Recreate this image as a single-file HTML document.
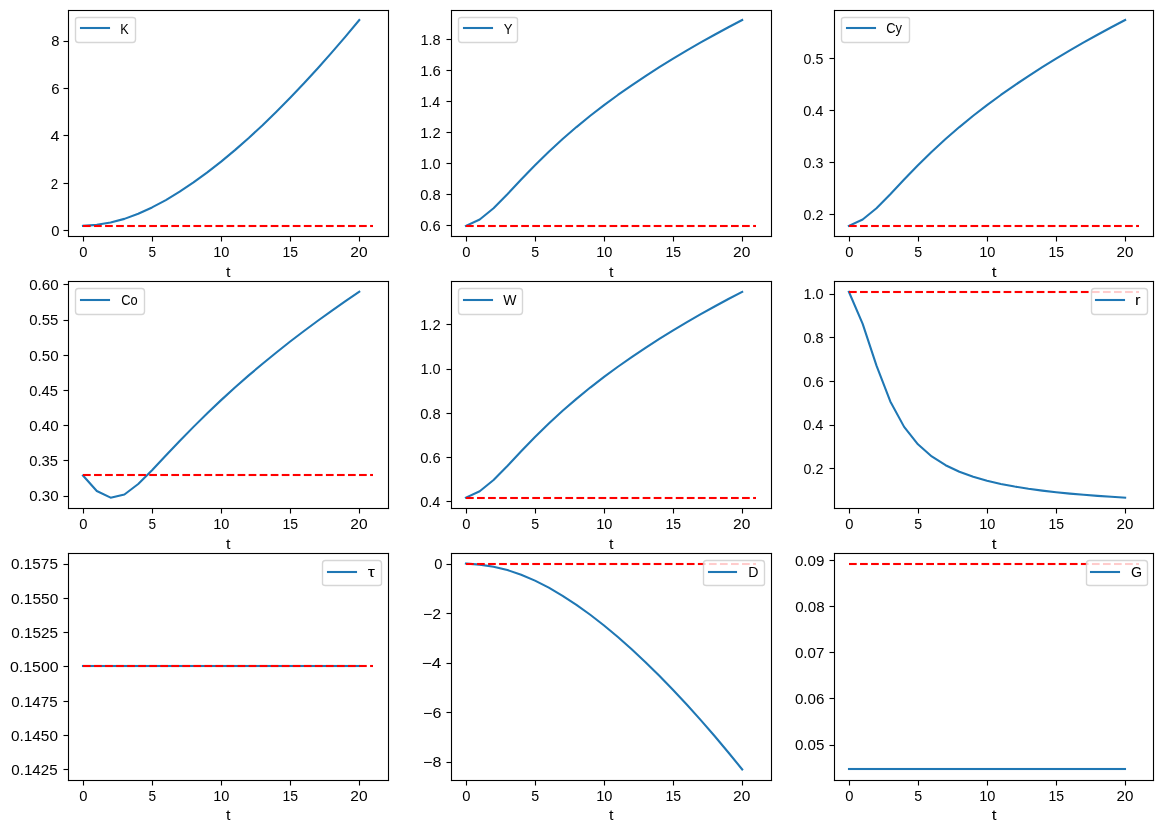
<!DOCTYPE html>
<html><head><meta charset="utf-8"><title>Transition paths</title>
<style>
html,body{margin:0;padding:0;background:#fff;}
svg{display:block;will-change:transform;}
.dl{fill:none;stroke:#1f77b4;stroke-width:2.083;stroke-linecap:square;stroke-linejoin:round;}
.b{fill:#1f77b4;}
.r{fill:#f00;}
.k{fill:#000;}
.lf{fill:#fff;fill-opacity:0.8;stroke:#ccc;stroke-opacity:0.8;stroke-width:1.389;stroke-linejoin:miter;}
.t text{font-family:"Liberation Sans",sans-serif;font-size:14.3px;fill:#000;}
</style></head>
<body>
<svg width="1163" height="833" viewBox="0 0 1163 833">
<rect width="1163" height="833" fill="#fff"/>
<g><path class="dl" d="M82.978 225.899 L96.792 224.842 L110.607 222.573 L124.421 218.874 L138.236 213.777 L152.051 207.452 L165.865 200.053 L179.68 191.696 L193.495 182.462 L207.309 172.421 L221.124 161.627 L234.938 150.125 L248.753 137.957 L262.568 125.157 L276.382 111.754 L290.197 97.776 L304.011 83.247 L317.826 68.188 L331.641 52.618 L345.455 36.556 L359.27 20.016"/><path class="r" d="M83 225H90.708V227H83ZM94.042 225H101.75V227H94.042ZM105.083 225H112.792V227H105.083ZM116.125 225H123.833V227H116.125ZM127.167 225H134.875V227H127.167ZM138.208 225H145.917V227H138.208ZM149.25 225H156.958V227H149.25ZM160.292 225H168V227H160.292ZM171.333 225H179.042V227H171.333ZM182.375 225H190.083V227H182.375ZM193.417 225H201.125V227H193.417ZM204.458 225H212.167V227H204.458ZM215.5 225H223.208V227H215.5ZM226.542 225H234.25V227H226.542ZM237.583 225H245.292V227H237.583ZM248.625 225H256.333V227H248.625ZM259.667 225H267.375V227H259.667ZM270.708 225H278.417V227H270.708ZM281.75 225H289.458V227H281.75ZM292.792 225H300.5V227H292.792ZM303.833 225H311.542V227H303.833ZM314.875 225H322.583V227H314.875ZM325.917 225H333.625V227H325.917ZM336.958 225H344.667V227H336.958ZM348 225H355.708V227H348ZM359.042 225H366.75V227H359.042ZM370.083 225H373V227H370.083Z"/><path class="r" fill-opacity="0.042" d="M83 224H90.708V225H83ZM83 227H90.708V228H83ZM94.042 224H101.75V225H94.042ZM94.042 227H101.75V228H94.042ZM105.083 224H112.792V225H105.083ZM105.083 227H112.792V228H105.083ZM116.125 224H123.833V225H116.125ZM116.125 227H123.833V228H116.125ZM127.167 224H134.875V225H127.167ZM127.167 227H134.875V228H127.167ZM138.208 224H145.917V225H138.208ZM138.208 227H145.917V228H138.208ZM149.25 224H156.958V225H149.25ZM149.25 227H156.958V228H149.25ZM160.292 224H168V225H160.292ZM160.292 227H168V228H160.292ZM171.333 224H179.042V225H171.333ZM171.333 227H179.042V228H171.333ZM182.375 224H190.083V225H182.375ZM182.375 227H190.083V228H182.375ZM193.417 224H201.125V225H193.417ZM193.417 227H201.125V228H193.417ZM204.458 224H212.167V225H204.458ZM204.458 227H212.167V228H204.458ZM215.5 224H223.208V225H215.5ZM215.5 227H223.208V228H215.5ZM226.542 224H234.25V225H226.542ZM226.542 227H234.25V228H226.542ZM237.583 224H245.292V225H237.583ZM237.583 227H245.292V228H237.583ZM248.625 224H256.333V225H248.625ZM248.625 227H256.333V228H248.625ZM259.667 224H267.375V225H259.667ZM259.667 227H267.375V228H259.667ZM270.708 224H278.417V225H270.708ZM270.708 227H278.417V228H270.708ZM281.75 224H289.458V225H281.75ZM281.75 227H289.458V228H281.75ZM292.792 224H300.5V225H292.792ZM292.792 227H300.5V228H292.792ZM303.833 224H311.542V225H303.833ZM303.833 227H311.542V228H303.833ZM314.875 224H322.583V225H314.875ZM314.875 227H322.583V228H314.875ZM325.917 224H333.625V225H325.917ZM325.917 227H333.625V228H325.917ZM336.958 224H344.667V225H336.958ZM336.958 227H344.667V228H336.958ZM348 224H355.708V225H348ZM348 227H355.708V228H348ZM359.042 224H366.75V225H359.042ZM359.042 227H366.75V228H359.042ZM370.083 224H373V225H370.083ZM370.083 227H373V228H370.083Z"/><path class="k" d="M67.944 10H69.056V237H67.944Z"/><path class="k" fill-opacity="0.056" d="M67.944 9H69.056V10H67.944ZM67.944 237H69.056V238H67.944Z"/><path class="k" d="M387.944 10H389.056V237H387.944Z"/><path class="k" fill-opacity="0.056" d="M387.944 9H389.056V10H387.944ZM387.944 237H389.056V238H387.944Z"/><path class="k" d="M67.944 236H389.056V237H67.944Z"/><path class="k" fill-opacity="0.056" d="M67.944 235H389.056V236H67.944ZM67.944 237H389.056V238H67.944Z"/><path class="k" d="M67.944 10H389.056V11H67.944Z"/><path class="k" fill-opacity="0.056" d="M67.944 9H389.056V10H67.944ZM67.944 11H389.056V12H67.944Z"/><path class="k" d="M82.944 237H84.056V241H82.944ZM151.944 237H153.056V241H151.944ZM220.944 237H222.056V241H220.944ZM289.944 237H291.056V241H289.944ZM358.944 237H360.056V241H358.944ZM63.5 230H68.5V231H63.5ZM63.5 183H68.5V184H63.5ZM63.5 135H68.5V136H63.5ZM63.5 88H68.5V89H63.5ZM63.5 41H68.5V42H63.5Z"/><path class="k" fill-opacity="0.5" d="M82.944 236H84.056V237H82.944ZM82.944 241H84.056V242H82.944ZM151.944 236H153.056V237H151.944ZM151.944 241H153.056V242H151.944ZM220.944 236H222.056V237H220.944ZM220.944 241H222.056V242H220.944ZM289.944 236H291.056V237H289.944ZM289.944 241H291.056V242H289.944ZM358.944 236H360.056V237H358.944ZM358.944 241H360.056V242H358.944Z"/><path class="k" fill-opacity="0.056" d="M63.5 229H68.5V230H63.5ZM63.5 231H68.5V232H63.5ZM63.5 182H68.5V183H63.5ZM63.5 184H68.5V185H63.5ZM63.5 134H68.5V135H63.5ZM63.5 136H68.5V137H63.5ZM63.5 87H68.5V88H63.5ZM63.5 89H68.5V90H63.5ZM63.5 40H68.5V41H63.5ZM63.5 42H68.5V43H63.5Z"/><g class="t"><text x="79.312" y="256.765" textLength="8.22" lengthAdjust="spacingAndGlyphs">0</text><text x="148.385" y="256.915" textLength="7.588" lengthAdjust="spacingAndGlyphs">5</text><text x="213.242" y="256.845" textLength="16.222" lengthAdjust="spacingAndGlyphs">10</text><text x="282.566" y="256.765" textLength="15.598" lengthAdjust="spacingAndGlyphs">15</text><text x="350.259" y="256.695" textLength="17.285" lengthAdjust="spacingAndGlyphs">20</text><text x="51.147" y="235.589" textLength="8.22" lengthAdjust="spacingAndGlyphs">0</text><text x="50.647" y="188.528" textLength="7.377" lengthAdjust="spacingAndGlyphs">2</text><text x="50.397" y="140.648" textLength="8.962" lengthAdjust="spacingAndGlyphs">4</text><text x="51.147" y="93.507" textLength="8.321" lengthAdjust="spacingAndGlyphs">6</text><text x="51.147" y="45.996" textLength="8.22" lengthAdjust="spacingAndGlyphs">8</text><text x="225.969" y="276.551" textLength="4.509" lengthAdjust="spacingAndGlyphs">t</text></g><path class="lf" d="M78.5 42.5L132.5 42.5Q135.5 42.5 135.5 39.5L135.5 19.5Q135.5 17.5 132.5 17.5L78.5 17.5Q75.5 17.5 75.5 19.5L75.5 39.5Q75.5 42.5 78.5 42.5Z"/><path class="b" d="M79.958 27H110.042V29H79.958Z"/><path class="b" fill-opacity="0.042" d="M79.958 26H110.042V27H79.958ZM79.958 29H110.042V30H79.958Z"/><g class="t"><text x="120.139" y="33.522" textLength="8.452" lengthAdjust="spacingAndGlyphs">K</text></g></g>
<g><path class="dl" d="M465.919 225.899 L479.733 219.475 L493.548 208.259 L507.363 194.264 L521.177 179.551 L534.992 165.252 L548.806 151.73 L562.621 139.025 L576.436 127.074 L590.25 115.798 L604.065 105.119 L617.88 94.968 L631.694 85.288 L645.509 76.027 L659.323 67.144 L673.138 58.6 L686.953 50.365 L700.767 42.412 L714.582 34.716 L728.396 27.257 L742.211 20.016"/><path class="r" d="M466 225H473.708V227H466ZM477.042 225H484.75V227H477.042ZM488.083 225H495.792V227H488.083ZM499.125 225H506.833V227H499.125ZM510.167 225H517.875V227H510.167ZM521.208 225H528.917V227H521.208ZM532.25 225H539.958V227H532.25ZM543.292 225H551V227H543.292ZM554.333 225H562.042V227H554.333ZM565.375 225H573.083V227H565.375ZM576.417 225H584.125V227H576.417ZM587.458 225H595.167V227H587.458ZM598.5 225H606.208V227H598.5ZM609.542 225H617.25V227H609.542ZM620.583 225H628.292V227H620.583ZM631.625 225H639.333V227H631.625ZM642.667 225H650.375V227H642.667ZM653.708 225H661.417V227H653.708ZM664.75 225H672.458V227H664.75ZM675.792 225H683.5V227H675.792ZM686.833 225H694.542V227H686.833ZM697.875 225H705.583V227H697.875ZM708.917 225H716.625V227H708.917ZM719.958 225H727.667V227H719.958ZM731 225H738.708V227H731ZM742.042 225H749.75V227H742.042ZM753.083 225H756V227H753.083Z"/><path class="r" fill-opacity="0.042" d="M466 224H473.708V225H466ZM466 227H473.708V228H466ZM477.042 224H484.75V225H477.042ZM477.042 227H484.75V228H477.042ZM488.083 224H495.792V225H488.083ZM488.083 227H495.792V228H488.083ZM499.125 224H506.833V225H499.125ZM499.125 227H506.833V228H499.125ZM510.167 224H517.875V225H510.167ZM510.167 227H517.875V228H510.167ZM521.208 224H528.917V225H521.208ZM521.208 227H528.917V228H521.208ZM532.25 224H539.958V225H532.25ZM532.25 227H539.958V228H532.25ZM543.292 224H551V225H543.292ZM543.292 227H551V228H543.292ZM554.333 224H562.042V225H554.333ZM554.333 227H562.042V228H554.333ZM565.375 224H573.083V225H565.375ZM565.375 227H573.083V228H565.375ZM576.417 224H584.125V225H576.417ZM576.417 227H584.125V228H576.417ZM587.458 224H595.167V225H587.458ZM587.458 227H595.167V228H587.458ZM598.5 224H606.208V225H598.5ZM598.5 227H606.208V228H598.5ZM609.542 224H617.25V225H609.542ZM609.542 227H617.25V228H609.542ZM620.583 224H628.292V225H620.583ZM620.583 227H628.292V228H620.583ZM631.625 224H639.333V225H631.625ZM631.625 227H639.333V228H631.625ZM642.667 224H650.375V225H642.667ZM642.667 227H650.375V228H642.667ZM653.708 224H661.417V225H653.708ZM653.708 227H661.417V228H653.708ZM664.75 224H672.458V225H664.75ZM664.75 227H672.458V228H664.75ZM675.792 224H683.5V225H675.792ZM675.792 227H683.5V228H675.792ZM686.833 224H694.542V225H686.833ZM686.833 227H694.542V228H686.833ZM697.875 224H705.583V225H697.875ZM697.875 227H705.583V228H697.875ZM708.917 224H716.625V225H708.917ZM708.917 227H716.625V228H708.917ZM719.958 224H727.667V225H719.958ZM719.958 227H727.667V228H719.958ZM731 224H738.708V225H731ZM731 227H738.708V228H731ZM742.042 224H749.75V225H742.042ZM742.042 227H749.75V228H742.042ZM753.083 224H756V225H753.083ZM753.083 227H756V228H753.083Z"/><path class="k" d="M450.944 10H452.056V237H450.944Z"/><path class="k" fill-opacity="0.056" d="M450.944 9H452.056V10H450.944ZM450.944 237H452.056V238H450.944Z"/><path class="k" d="M770.944 10H772.056V237H770.944Z"/><path class="k" fill-opacity="0.056" d="M770.944 9H772.056V10H770.944ZM770.944 237H772.056V238H770.944Z"/><path class="k" d="M450.944 236H772.056V237H450.944Z"/><path class="k" fill-opacity="0.056" d="M450.944 235H772.056V236H450.944ZM450.944 237H772.056V238H450.944Z"/><path class="k" d="M450.944 10H772.056V11H450.944Z"/><path class="k" fill-opacity="0.056" d="M450.944 9H772.056V10H450.944ZM450.944 11H772.056V12H450.944Z"/><path class="k" d="M465.944 237H467.056V241H465.944ZM534.944 237H536.056V241H534.944ZM603.944 237H605.056V241H603.944ZM672.944 237H674.056V241H672.944ZM741.944 237H743.056V241H741.944ZM446.5 225H451.5V226H446.5ZM446.5 194H451.5V195H446.5ZM446.5 163H451.5V164H446.5ZM446.5 132H451.5V133H446.5ZM446.5 101H451.5V102H446.5ZM446.5 70H451.5V71H446.5ZM446.5 39H451.5V40H446.5Z"/><path class="k" fill-opacity="0.5" d="M465.944 236H467.056V237H465.944ZM465.944 241H467.056V242H465.944ZM534.944 236H536.056V237H534.944ZM534.944 241H536.056V242H534.944ZM603.944 236H605.056V237H603.944ZM603.944 241H605.056V242H603.944ZM672.944 236H674.056V237H672.944ZM672.944 241H674.056V242H672.944ZM741.944 236H743.056V237H741.944ZM741.944 241H743.056V242H741.944Z"/><path class="k" fill-opacity="0.056" d="M446.5 224H451.5V225H446.5ZM446.5 226H451.5V227H446.5ZM446.5 193H451.5V194H446.5ZM446.5 195H451.5V196H446.5ZM446.5 162H451.5V163H446.5ZM446.5 164H451.5V165H446.5ZM446.5 131H451.5V132H446.5ZM446.5 133H451.5V134H446.5ZM446.5 100H451.5V101H446.5ZM446.5 102H451.5V103H446.5ZM446.5 69H451.5V70H446.5ZM446.5 71H451.5V72H446.5ZM446.5 38H451.5V39H446.5ZM446.5 40H451.5V41H446.5Z"/><g class="t"><text x="462.253" y="256.765" textLength="8.22" lengthAdjust="spacingAndGlyphs">0</text><text x="531.206" y="256.845" textLength="7.908" lengthAdjust="spacingAndGlyphs">5</text><text x="596.184" y="256.845" textLength="16.222" lengthAdjust="spacingAndGlyphs">10</text><text x="665.507" y="256.765" textLength="15.598" lengthAdjust="spacingAndGlyphs">15</text><text x="733.08" y="256.765" textLength="17.285" lengthAdjust="spacingAndGlyphs">20</text><text x="420.169" y="230.59" textLength="20.494" lengthAdjust="spacingAndGlyphs">0.6</text><text x="420.169" y="199.631" textLength="20.494" lengthAdjust="spacingAndGlyphs">0.8</text><text x="420.419" y="168.523" textLength="20.22" lengthAdjust="spacingAndGlyphs">1.0</text><text x="420.169" y="137.565" textLength="20.494" lengthAdjust="spacingAndGlyphs">1.2</text><text x="420.419" y="106.537" textLength="19.716" lengthAdjust="spacingAndGlyphs">1.4</text><text x="420.169" y="75.579" textLength="20.746" lengthAdjust="spacingAndGlyphs">1.6</text><text x="420.419" y="44.62" textLength="20.22" lengthAdjust="spacingAndGlyphs">1.8</text><text x="608.91" y="276.551" textLength="4.509" lengthAdjust="spacingAndGlyphs">t</text></g><path class="lf" d="M461.5 42.5L514.5 42.5Q517.5 42.5 517.5 39.5L517.5 19.5Q517.5 17.5 514.5 17.5L461.5 17.5Q458.5 17.5 458.5 19.5L458.5 39.5Q458.5 42.5 461.5 42.5Z"/><path class="b" d="M462.958 27H493.042V29H462.958Z"/><path class="b" fill-opacity="0.042" d="M462.958 26H493.042V27H462.958ZM462.958 29H493.042V30H462.958Z"/><g class="t"><text x="503.695" y="33.522" textLength="8.778" lengthAdjust="spacingAndGlyphs">Y</text></g></g>
<g><path class="dl" d="M848.86 225.899 L862.675 219.475 L876.489 208.259 L890.304 194.264 L904.118 179.551 L917.933 165.252 L931.748 151.73 L945.562 139.025 L959.377 127.074 L973.191 115.798 L987.006 105.119 L1000.821 94.968 L1014.635 85.288 L1028.45 76.027 L1042.265 67.144 L1056.079 58.6 L1069.894 50.365 L1083.708 42.412 L1097.523 34.716 L1111.338 27.257 L1125.152 20.016"/><path class="r" d="M849 225H856.708V227H849ZM860.042 225H867.75V227H860.042ZM871.083 225H878.792V227H871.083ZM882.125 225H889.833V227H882.125ZM893.167 225H900.875V227H893.167ZM904.208 225H911.917V227H904.208ZM915.25 225H922.958V227H915.25ZM926.292 225H934V227H926.292ZM937.333 225H945.042V227H937.333ZM948.375 225H956.083V227H948.375ZM959.417 225H967.125V227H959.417ZM970.458 225H978.167V227H970.458ZM981.5 225H989.208V227H981.5ZM992.542 225H1000.25V227H992.542ZM1003.583 225H1011.292V227H1003.583ZM1014.625 225H1022.333V227H1014.625ZM1025.667 225H1033.375V227H1025.667ZM1036.708 225H1044.417V227H1036.708ZM1047.75 225H1055.458V227H1047.75ZM1058.792 225H1066.5V227H1058.792ZM1069.833 225H1077.542V227H1069.833ZM1080.875 225H1088.583V227H1080.875ZM1091.917 225H1099.625V227H1091.917ZM1102.958 225H1110.667V227H1102.958ZM1114 225H1121.708V227H1114ZM1125.042 225H1132.75V227H1125.042ZM1136.083 225H1139V227H1136.083Z"/><path class="r" fill-opacity="0.042" d="M849 224H856.708V225H849ZM849 227H856.708V228H849ZM860.042 224H867.75V225H860.042ZM860.042 227H867.75V228H860.042ZM871.083 224H878.792V225H871.083ZM871.083 227H878.792V228H871.083ZM882.125 224H889.833V225H882.125ZM882.125 227H889.833V228H882.125ZM893.167 224H900.875V225H893.167ZM893.167 227H900.875V228H893.167ZM904.208 224H911.917V225H904.208ZM904.208 227H911.917V228H904.208ZM915.25 224H922.958V225H915.25ZM915.25 227H922.958V228H915.25ZM926.292 224H934V225H926.292ZM926.292 227H934V228H926.292ZM937.333 224H945.042V225H937.333ZM937.333 227H945.042V228H937.333ZM948.375 224H956.083V225H948.375ZM948.375 227H956.083V228H948.375ZM959.417 224H967.125V225H959.417ZM959.417 227H967.125V228H959.417ZM970.458 224H978.167V225H970.458ZM970.458 227H978.167V228H970.458ZM981.5 224H989.208V225H981.5ZM981.5 227H989.208V228H981.5ZM992.542 224H1000.25V225H992.542ZM992.542 227H1000.25V228H992.542ZM1003.583 224H1011.292V225H1003.583ZM1003.583 227H1011.292V228H1003.583ZM1014.625 224H1022.333V225H1014.625ZM1014.625 227H1022.333V228H1014.625ZM1025.667 224H1033.375V225H1025.667ZM1025.667 227H1033.375V228H1025.667ZM1036.708 224H1044.417V225H1036.708ZM1036.708 227H1044.417V228H1036.708ZM1047.75 224H1055.458V225H1047.75ZM1047.75 227H1055.458V228H1047.75ZM1058.792 224H1066.5V225H1058.792ZM1058.792 227H1066.5V228H1058.792ZM1069.833 224H1077.542V225H1069.833ZM1069.833 227H1077.542V228H1069.833ZM1080.875 224H1088.583V225H1080.875ZM1080.875 227H1088.583V228H1080.875ZM1091.917 224H1099.625V225H1091.917ZM1091.917 227H1099.625V228H1091.917ZM1102.958 224H1110.667V225H1102.958ZM1102.958 227H1110.667V228H1102.958ZM1114 224H1121.708V225H1114ZM1114 227H1121.708V228H1114ZM1125.042 224H1132.75V225H1125.042ZM1125.042 227H1132.75V228H1125.042ZM1136.083 224H1139V225H1136.083ZM1136.083 227H1139V228H1136.083Z"/><path class="k" d="M833.944 10H835.056V237H833.944Z"/><path class="k" fill-opacity="0.056" d="M833.944 9H835.056V10H833.944ZM833.944 237H835.056V238H833.944Z"/><path class="k" d="M1152.944 10H1154.056V237H1152.944Z"/><path class="k" fill-opacity="0.056" d="M1152.944 9H1154.056V10H1152.944ZM1152.944 237H1154.056V238H1152.944Z"/><path class="k" d="M833.944 236H1154.056V237H833.944Z"/><path class="k" fill-opacity="0.056" d="M833.944 235H1154.056V236H833.944ZM833.944 237H1154.056V238H833.944Z"/><path class="k" d="M833.944 10H1154.056V11H833.944Z"/><path class="k" fill-opacity="0.056" d="M833.944 9H1154.056V10H833.944ZM833.944 11H1154.056V12H833.944Z"/><path class="k" d="M848.944 237H850.056V241H848.944ZM917.944 237H919.056V241H917.944ZM986.944 237H988.056V241H986.944ZM1055.944 237H1057.056V241H1055.944ZM1124.944 237H1126.056V241H1124.944ZM829.5 214H834.5V215H829.5ZM829.5 162H834.5V163H829.5ZM829.5 110H834.5V111H829.5ZM829.5 58H834.5V59H829.5Z"/><path class="k" fill-opacity="0.5" d="M848.944 236H850.056V237H848.944ZM848.944 241H850.056V242H848.944ZM917.944 236H919.056V237H917.944ZM917.944 241H919.056V242H917.944ZM986.944 236H988.056V237H986.944ZM986.944 241H988.056V242H986.944ZM1055.944 236H1057.056V237H1055.944ZM1055.944 241H1057.056V242H1055.944ZM1124.944 236H1126.056V237H1124.944ZM1124.944 241H1126.056V242H1124.944Z"/><path class="k" fill-opacity="0.056" d="M829.5 213H834.5V214H829.5ZM829.5 215H834.5V216H829.5ZM829.5 161H834.5V162H829.5ZM829.5 163H834.5V164H829.5ZM829.5 109H834.5V110H829.5ZM829.5 111H834.5V112H829.5ZM829.5 57H834.5V58H829.5ZM829.5 59H834.5V60H829.5Z"/><g class="t"><text x="845.194" y="256.765" textLength="8.22" lengthAdjust="spacingAndGlyphs">0</text><text x="914.147" y="256.845" textLength="7.908" lengthAdjust="spacingAndGlyphs">5</text><text x="979.125" y="256.695" textLength="16.239" lengthAdjust="spacingAndGlyphs">10</text><text x="1048.448" y="256.765" textLength="15.598" lengthAdjust="spacingAndGlyphs">15</text><text x="1116.521" y="256.765" textLength="16.863" lengthAdjust="spacingAndGlyphs">20</text><text x="803.61" y="219.633" textLength="19.716" lengthAdjust="spacingAndGlyphs">0.2</text><text x="803.61" y="167.602" textLength="19.716" lengthAdjust="spacingAndGlyphs">0.3</text><text x="803.24" y="115.572" textLength="20.22" lengthAdjust="spacingAndGlyphs">0.4</text><text x="803.61" y="63.541" textLength="19.716" lengthAdjust="spacingAndGlyphs">0.5</text><text x="991.851" y="276.621" textLength="4.833" lengthAdjust="spacingAndGlyphs">t</text></g><path class="lf" d="M844.5 42.5L907.5 42.5Q909.5 42.5 909.5 39.5L909.5 19.5Q909.5 17.5 907.5 17.5L844.5 17.5Q841.5 17.5 841.5 19.5L841.5 39.5Q841.5 42.5 844.5 42.5Z"/><path class="b" d="M845.958 27H876.042V29H845.958Z"/><path class="b" fill-opacity="0.042" d="M845.958 26H876.042V27H845.958ZM845.958 29H876.042V30H845.958Z"/><g class="t"><text x="886.243" y="33.072" textLength="15.818" lengthAdjust="spacingAndGlyphs">Cy</text></g></g>
<g><path class="dl" d="M82.978 475.469 L96.792 491.011 L110.607 497.663 L124.421 494.498 L138.236 484.031 L152.051 470.247 L165.865 455.579 L179.68 441.008 L193.495 426.861 L207.309 413.23 L221.124 400.125 L234.938 387.526 L248.753 375.401 L262.568 363.718 L276.382 352.441 L290.197 341.541 L304.011 330.989 L317.826 320.759 L331.641 310.828 L345.455 301.175 L359.27 291.781"/><path class="r" d="M83 474H90.708V476H83ZM94.042 474H101.75V476H94.042ZM105.083 474H112.792V476H105.083ZM116.125 474H123.833V476H116.125ZM127.167 474H134.875V476H127.167ZM138.208 474H145.917V476H138.208ZM149.25 474H156.958V476H149.25ZM160.292 474H168V476H160.292ZM171.333 474H179.042V476H171.333ZM182.375 474H190.083V476H182.375ZM193.417 474H201.125V476H193.417ZM204.458 474H212.167V476H204.458ZM215.5 474H223.208V476H215.5ZM226.542 474H234.25V476H226.542ZM237.583 474H245.292V476H237.583ZM248.625 474H256.333V476H248.625ZM259.667 474H267.375V476H259.667ZM270.708 474H278.417V476H270.708ZM281.75 474H289.458V476H281.75ZM292.792 474H300.5V476H292.792ZM303.833 474H311.542V476H303.833ZM314.875 474H322.583V476H314.875ZM325.917 474H333.625V476H325.917ZM336.958 474H344.667V476H336.958ZM348 474H355.708V476H348ZM359.042 474H366.75V476H359.042ZM370.083 474H373V476H370.083Z"/><path class="r" fill-opacity="0.042" d="M83 473H90.708V474H83ZM83 476H90.708V477H83ZM94.042 473H101.75V474H94.042ZM94.042 476H101.75V477H94.042ZM105.083 473H112.792V474H105.083ZM105.083 476H112.792V477H105.083ZM116.125 473H123.833V474H116.125ZM116.125 476H123.833V477H116.125ZM127.167 473H134.875V474H127.167ZM127.167 476H134.875V477H127.167ZM138.208 473H145.917V474H138.208ZM138.208 476H145.917V477H138.208ZM149.25 473H156.958V474H149.25ZM149.25 476H156.958V477H149.25ZM160.292 473H168V474H160.292ZM160.292 476H168V477H160.292ZM171.333 473H179.042V474H171.333ZM171.333 476H179.042V477H171.333ZM182.375 473H190.083V474H182.375ZM182.375 476H190.083V477H182.375ZM193.417 473H201.125V474H193.417ZM193.417 476H201.125V477H193.417ZM204.458 473H212.167V474H204.458ZM204.458 476H212.167V477H204.458ZM215.5 473H223.208V474H215.5ZM215.5 476H223.208V477H215.5ZM226.542 473H234.25V474H226.542ZM226.542 476H234.25V477H226.542ZM237.583 473H245.292V474H237.583ZM237.583 476H245.292V477H237.583ZM248.625 473H256.333V474H248.625ZM248.625 476H256.333V477H248.625ZM259.667 473H267.375V474H259.667ZM259.667 476H267.375V477H259.667ZM270.708 473H278.417V474H270.708ZM270.708 476H278.417V477H270.708ZM281.75 473H289.458V474H281.75ZM281.75 476H289.458V477H281.75ZM292.792 473H300.5V474H292.792ZM292.792 476H300.5V477H292.792ZM303.833 473H311.542V474H303.833ZM303.833 476H311.542V477H303.833ZM314.875 473H322.583V474H314.875ZM314.875 476H322.583V477H314.875ZM325.917 473H333.625V474H325.917ZM325.917 476H333.625V477H325.917ZM336.958 473H344.667V474H336.958ZM336.958 476H344.667V477H336.958ZM348 473H355.708V474H348ZM348 476H355.708V477H348ZM359.042 473H366.75V474H359.042ZM359.042 476H366.75V477H359.042ZM370.083 473H373V474H370.083ZM370.083 476H373V477H370.083Z"/><path class="k" d="M67.944 281H69.056V509H67.944Z"/><path class="k" fill-opacity="0.056" d="M67.944 280H69.056V281H67.944ZM67.944 509H69.056V510H67.944Z"/><path class="k" d="M387.944 281H389.056V509H387.944Z"/><path class="k" fill-opacity="0.056" d="M387.944 280H389.056V281H387.944ZM387.944 509H389.056V510H387.944Z"/><path class="k" d="M67.944 508H389.056V509H67.944Z"/><path class="k" fill-opacity="0.056" d="M67.944 507H389.056V508H67.944ZM67.944 509H389.056V510H67.944Z"/><path class="k" d="M67.944 281H389.056V282H67.944Z"/><path class="k" fill-opacity="0.056" d="M67.944 280H389.056V281H67.944ZM67.944 282H389.056V283H67.944Z"/><path class="k" d="M82.944 509H84.056V513H82.944ZM151.944 509H153.056V513H151.944ZM220.944 509H222.056V513H220.944ZM289.944 509H291.056V513H289.944ZM358.944 509H360.056V513H358.944ZM63.5 496H68.5V497H63.5ZM63.5 460H68.5V461H63.5ZM63.5 425H68.5V426H63.5ZM63.5 390H68.5V391H63.5ZM63.5 355H68.5V356H63.5ZM63.5 320H68.5V321H63.5ZM63.5 284H68.5V285H63.5Z"/><path class="k" fill-opacity="0.5" d="M82.944 508H84.056V509H82.944ZM82.944 513H84.056V514H82.944ZM151.944 508H153.056V509H151.944ZM151.944 513H153.056V514H151.944ZM220.944 508H222.056V509H220.944ZM220.944 513H222.056V514H220.944ZM289.944 508H291.056V509H289.944ZM289.944 513H291.056V514H289.944ZM358.944 508H360.056V509H358.944ZM358.944 513H360.056V514H358.944Z"/><path class="k" fill-opacity="0.056" d="M63.5 495H68.5V496H63.5ZM63.5 497H68.5V498H63.5ZM63.5 459H68.5V460H63.5ZM63.5 461H68.5V462H63.5ZM63.5 424H68.5V425H63.5ZM63.5 426H68.5V427H63.5ZM63.5 389H68.5V390H63.5ZM63.5 391H68.5V392H63.5ZM63.5 354H68.5V355H63.5ZM63.5 356H68.5V357H63.5ZM63.5 319H68.5V320H63.5ZM63.5 321H68.5V322H63.5ZM63.5 283H68.5V284H63.5ZM63.5 285H68.5V286H63.5Z"/><g class="t"><text x="79.312" y="528.53" textLength="8.22" lengthAdjust="spacingAndGlyphs">0</text><text x="148.385" y="528.68" textLength="7.588" lengthAdjust="spacingAndGlyphs">5</text><text x="213.242" y="528.61" textLength="16.222" lengthAdjust="spacingAndGlyphs">10</text><text x="282.566" y="528.53" textLength="15.598" lengthAdjust="spacingAndGlyphs">15</text><text x="350.259" y="528.53" textLength="17.285" lengthAdjust="spacingAndGlyphs">20</text><text x="29.205" y="500.884" textLength="29.45" lengthAdjust="spacingAndGlyphs">0.30</text><text x="29.325" y="465.768" textLength="28.714" lengthAdjust="spacingAndGlyphs">0.35</text><text x="29.205" y="430.512" textLength="29.45" lengthAdjust="spacingAndGlyphs">0.40</text><text x="29.325" y="395.546" textLength="28.714" lengthAdjust="spacingAndGlyphs">0.45</text><text x="29.205" y="360.51" textLength="29.45" lengthAdjust="spacingAndGlyphs">0.50</text><text x="29.205" y="324.955" textLength="29.067" lengthAdjust="spacingAndGlyphs">0.55</text><text x="29.205" y="289.769" textLength="29.45" lengthAdjust="spacingAndGlyphs">0.60</text><text x="225.969" y="548.535" textLength="4.509" lengthAdjust="spacingAndGlyphs">t</text></g><path class="lf" d="M78.5 314.5L141.5 314.5Q144.5 314.5 144.5 311.5L144.5 291.5Q144.5 288.5 141.5 288.5L78.5 288.5Q75.5 288.5 75.5 291.5L75.5 311.5Q75.5 314.5 78.5 314.5Z"/><path class="b" d="M79.958 299H110.042V301H79.958Z"/><path class="b" fill-opacity="0.042" d="M79.958 298H110.042V299H79.958ZM79.958 301H110.042V302H79.958Z"/><g class="t"><text x="121.247" y="304.917" textLength="16.47" lengthAdjust="spacingAndGlyphs">Co</text></g></g>
<g><path class="dl" d="M465.919 497.663 L479.733 491.24 L493.548 480.024 L507.363 466.029 L521.177 451.316 L534.992 437.016 L548.806 423.495 L562.621 410.79 L576.436 398.839 L590.25 387.562 L604.065 376.883 L617.88 366.733 L631.694 357.053 L645.509 347.792 L659.323 338.908 L673.138 330.365 L686.953 322.13 L700.767 314.176 L714.582 306.481 L728.396 299.021 L742.211 291.781"/><path class="r" d="M466 497H473.708V499H466ZM477.042 497H484.75V499H477.042ZM488.083 497H495.792V499H488.083ZM499.125 497H506.833V499H499.125ZM510.167 497H517.875V499H510.167ZM521.208 497H528.917V499H521.208ZM532.25 497H539.958V499H532.25ZM543.292 497H551V499H543.292ZM554.333 497H562.042V499H554.333ZM565.375 497H573.083V499H565.375ZM576.417 497H584.125V499H576.417ZM587.458 497H595.167V499H587.458ZM598.5 497H606.208V499H598.5ZM609.542 497H617.25V499H609.542ZM620.583 497H628.292V499H620.583ZM631.625 497H639.333V499H631.625ZM642.667 497H650.375V499H642.667ZM653.708 497H661.417V499H653.708ZM664.75 497H672.458V499H664.75ZM675.792 497H683.5V499H675.792ZM686.833 497H694.542V499H686.833ZM697.875 497H705.583V499H697.875ZM708.917 497H716.625V499H708.917ZM719.958 497H727.667V499H719.958ZM731 497H738.708V499H731ZM742.042 497H749.75V499H742.042ZM753.083 497H756V499H753.083Z"/><path class="r" fill-opacity="0.042" d="M466 496H473.708V497H466ZM466 499H473.708V500H466ZM477.042 496H484.75V497H477.042ZM477.042 499H484.75V500H477.042ZM488.083 496H495.792V497H488.083ZM488.083 499H495.792V500H488.083ZM499.125 496H506.833V497H499.125ZM499.125 499H506.833V500H499.125ZM510.167 496H517.875V497H510.167ZM510.167 499H517.875V500H510.167ZM521.208 496H528.917V497H521.208ZM521.208 499H528.917V500H521.208ZM532.25 496H539.958V497H532.25ZM532.25 499H539.958V500H532.25ZM543.292 496H551V497H543.292ZM543.292 499H551V500H543.292ZM554.333 496H562.042V497H554.333ZM554.333 499H562.042V500H554.333ZM565.375 496H573.083V497H565.375ZM565.375 499H573.083V500H565.375ZM576.417 496H584.125V497H576.417ZM576.417 499H584.125V500H576.417ZM587.458 496H595.167V497H587.458ZM587.458 499H595.167V500H587.458ZM598.5 496H606.208V497H598.5ZM598.5 499H606.208V500H598.5ZM609.542 496H617.25V497H609.542ZM609.542 499H617.25V500H609.542ZM620.583 496H628.292V497H620.583ZM620.583 499H628.292V500H620.583ZM631.625 496H639.333V497H631.625ZM631.625 499H639.333V500H631.625ZM642.667 496H650.375V497H642.667ZM642.667 499H650.375V500H642.667ZM653.708 496H661.417V497H653.708ZM653.708 499H661.417V500H653.708ZM664.75 496H672.458V497H664.75ZM664.75 499H672.458V500H664.75ZM675.792 496H683.5V497H675.792ZM675.792 499H683.5V500H675.792ZM686.833 496H694.542V497H686.833ZM686.833 499H694.542V500H686.833ZM697.875 496H705.583V497H697.875ZM697.875 499H705.583V500H697.875ZM708.917 496H716.625V497H708.917ZM708.917 499H716.625V500H708.917ZM719.958 496H727.667V497H719.958ZM719.958 499H727.667V500H719.958ZM731 496H738.708V497H731ZM731 499H738.708V500H731ZM742.042 496H749.75V497H742.042ZM742.042 499H749.75V500H742.042ZM753.083 496H756V497H753.083ZM753.083 499H756V500H753.083Z"/><path class="k" d="M450.944 281H452.056V509H450.944Z"/><path class="k" fill-opacity="0.056" d="M450.944 280H452.056V281H450.944ZM450.944 509H452.056V510H450.944Z"/><path class="k" d="M770.944 281H772.056V509H770.944Z"/><path class="k" fill-opacity="0.056" d="M770.944 280H772.056V281H770.944ZM770.944 509H772.056V510H770.944Z"/><path class="k" d="M450.944 508H772.056V509H450.944Z"/><path class="k" fill-opacity="0.056" d="M450.944 507H772.056V508H450.944ZM450.944 509H772.056V510H450.944Z"/><path class="k" d="M450.944 281H772.056V282H450.944Z"/><path class="k" fill-opacity="0.056" d="M450.944 280H772.056V281H450.944ZM450.944 282H772.056V283H450.944Z"/><path class="k" d="M465.944 509H467.056V513H465.944ZM534.944 509H536.056V513H534.944ZM603.944 509H605.056V513H603.944ZM672.944 509H674.056V513H672.944ZM741.944 509H743.056V513H741.944ZM446.5 501H451.5V502H446.5ZM446.5 457H451.5V458H446.5ZM446.5 413H451.5V414H446.5ZM446.5 369H451.5V370H446.5ZM446.5 324H451.5V325H446.5Z"/><path class="k" fill-opacity="0.5" d="M465.944 508H467.056V509H465.944ZM465.944 513H467.056V514H465.944ZM534.944 508H536.056V509H534.944ZM534.944 513H536.056V514H534.944ZM603.944 508H605.056V509H603.944ZM603.944 513H605.056V514H603.944ZM672.944 508H674.056V509H672.944ZM672.944 513H674.056V514H672.944ZM741.944 508H743.056V509H741.944ZM741.944 513H743.056V514H741.944Z"/><path class="k" fill-opacity="0.056" d="M446.5 500H451.5V501H446.5ZM446.5 502H451.5V503H446.5ZM446.5 456H451.5V457H446.5ZM446.5 458H451.5V459H446.5ZM446.5 412H451.5V413H446.5ZM446.5 414H451.5V415H446.5ZM446.5 368H451.5V369H446.5ZM446.5 370H451.5V371H446.5ZM446.5 323H451.5V324H446.5ZM446.5 325H451.5V326H446.5Z"/><g class="t"><text x="462.253" y="528.53" textLength="8.22" lengthAdjust="spacingAndGlyphs">0</text><text x="531.206" y="528.61" textLength="7.908" lengthAdjust="spacingAndGlyphs">5</text><text x="596.184" y="528.61" textLength="16.222" lengthAdjust="spacingAndGlyphs">10</text><text x="665.507" y="528.53" textLength="15.598" lengthAdjust="spacingAndGlyphs">15</text><text x="733.08" y="528.53" textLength="17.285" lengthAdjust="spacingAndGlyphs">20</text><text x="420.169" y="506.557" textLength="20.241" lengthAdjust="spacingAndGlyphs">0.4</text><text x="420.169" y="462.551" textLength="20.494" lengthAdjust="spacingAndGlyphs">0.6</text><text x="420.169" y="418.625" textLength="20.494" lengthAdjust="spacingAndGlyphs">0.8</text><text x="420.419" y="373.879" textLength="20.22" lengthAdjust="spacingAndGlyphs">1.0</text><text x="420.169" y="329.723" textLength="20.494" lengthAdjust="spacingAndGlyphs">1.2</text><text x="608.91" y="548.535" textLength="4.509" lengthAdjust="spacingAndGlyphs">t</text></g><path class="lf" d="M461.5 314.5L519.5 314.5Q522.5 314.5 522.5 311.5L522.5 291.5Q522.5 288.5 519.5 288.5L461.5 288.5Q458.5 288.5 458.5 291.5L458.5 311.5Q458.5 314.5 461.5 314.5Z"/><path class="b" d="M462.958 299H493.042V301H462.958Z"/><path class="b" fill-opacity="0.042" d="M462.958 298H493.042V299H462.958ZM462.958 301H493.042V302H462.958Z"/><g class="t"><text x="503.196" y="304.917" textLength="13.219" lengthAdjust="spacingAndGlyphs">W</text></g></g>
<g><path class="dl" d="M848.86 291.781 L862.675 323.83 L876.489 365.666 L890.304 401.387 L904.118 426.872 L917.933 444.296 L931.748 456.431 L945.562 465.185 L959.377 471.722 L973.191 476.754 L987.006 480.729 L1000.821 483.936 L1014.635 486.573 L1028.45 488.775 L1042.265 490.639 L1056.079 492.235 L1069.894 493.616 L1083.708 494.822 L1097.523 495.883 L1111.338 496.824 L1125.152 497.663"/><path class="r" d="M849 291H856.708V293H849ZM860.042 291H867.75V293H860.042ZM871.083 291H878.792V293H871.083ZM882.125 291H889.833V293H882.125ZM893.167 291H900.875V293H893.167ZM904.208 291H911.917V293H904.208ZM915.25 291H922.958V293H915.25ZM926.292 291H934V293H926.292ZM937.333 291H945.042V293H937.333ZM948.375 291H956.083V293H948.375ZM959.417 291H967.125V293H959.417ZM970.458 291H978.167V293H970.458ZM981.5 291H989.208V293H981.5ZM992.542 291H1000.25V293H992.542ZM1003.583 291H1011.292V293H1003.583ZM1014.625 291H1022.333V293H1014.625ZM1025.667 291H1033.375V293H1025.667ZM1036.708 291H1044.417V293H1036.708ZM1047.75 291H1055.458V293H1047.75ZM1058.792 291H1066.5V293H1058.792ZM1069.833 291H1077.542V293H1069.833ZM1080.875 291H1088.583V293H1080.875ZM1091.917 291H1099.625V293H1091.917ZM1102.958 291H1110.667V293H1102.958ZM1114 291H1121.708V293H1114ZM1125.042 291H1132.75V293H1125.042ZM1136.083 291H1139V293H1136.083Z"/><path class="r" fill-opacity="0.042" d="M849 290H856.708V291H849ZM849 293H856.708V294H849ZM860.042 290H867.75V291H860.042ZM860.042 293H867.75V294H860.042ZM871.083 290H878.792V291H871.083ZM871.083 293H878.792V294H871.083ZM882.125 290H889.833V291H882.125ZM882.125 293H889.833V294H882.125ZM893.167 290H900.875V291H893.167ZM893.167 293H900.875V294H893.167ZM904.208 290H911.917V291H904.208ZM904.208 293H911.917V294H904.208ZM915.25 290H922.958V291H915.25ZM915.25 293H922.958V294H915.25ZM926.292 290H934V291H926.292ZM926.292 293H934V294H926.292ZM937.333 290H945.042V291H937.333ZM937.333 293H945.042V294H937.333ZM948.375 290H956.083V291H948.375ZM948.375 293H956.083V294H948.375ZM959.417 290H967.125V291H959.417ZM959.417 293H967.125V294H959.417ZM970.458 290H978.167V291H970.458ZM970.458 293H978.167V294H970.458ZM981.5 290H989.208V291H981.5ZM981.5 293H989.208V294H981.5ZM992.542 290H1000.25V291H992.542ZM992.542 293H1000.25V294H992.542ZM1003.583 290H1011.292V291H1003.583ZM1003.583 293H1011.292V294H1003.583ZM1014.625 290H1022.333V291H1014.625ZM1014.625 293H1022.333V294H1014.625ZM1025.667 290H1033.375V291H1025.667ZM1025.667 293H1033.375V294H1025.667ZM1036.708 290H1044.417V291H1036.708ZM1036.708 293H1044.417V294H1036.708ZM1047.75 290H1055.458V291H1047.75ZM1047.75 293H1055.458V294H1047.75ZM1058.792 290H1066.5V291H1058.792ZM1058.792 293H1066.5V294H1058.792ZM1069.833 290H1077.542V291H1069.833ZM1069.833 293H1077.542V294H1069.833ZM1080.875 290H1088.583V291H1080.875ZM1080.875 293H1088.583V294H1080.875ZM1091.917 290H1099.625V291H1091.917ZM1091.917 293H1099.625V294H1091.917ZM1102.958 290H1110.667V291H1102.958ZM1102.958 293H1110.667V294H1102.958ZM1114 290H1121.708V291H1114ZM1114 293H1121.708V294H1114ZM1125.042 290H1132.75V291H1125.042ZM1125.042 293H1132.75V294H1125.042ZM1136.083 290H1139V291H1136.083ZM1136.083 293H1139V294H1136.083Z"/><path class="k" d="M833.944 281H835.056V509H833.944Z"/><path class="k" fill-opacity="0.056" d="M833.944 280H835.056V281H833.944ZM833.944 509H835.056V510H833.944Z"/><path class="k" d="M1152.944 281H1154.056V509H1152.944Z"/><path class="k" fill-opacity="0.056" d="M1152.944 280H1154.056V281H1152.944ZM1152.944 509H1154.056V510H1152.944Z"/><path class="k" d="M833.944 508H1154.056V509H833.944Z"/><path class="k" fill-opacity="0.056" d="M833.944 507H1154.056V508H833.944ZM833.944 509H1154.056V510H833.944Z"/><path class="k" d="M833.944 281H1154.056V282H833.944Z"/><path class="k" fill-opacity="0.056" d="M833.944 280H1154.056V281H833.944ZM833.944 282H1154.056V283H833.944Z"/><path class="k" d="M848.944 509H850.056V513H848.944ZM917.944 509H919.056V513H917.944ZM986.944 509H988.056V513H986.944ZM1055.944 509H1057.056V513H1055.944ZM1124.944 509H1126.056V513H1124.944ZM829.5 468H834.5V469H829.5ZM829.5 425H834.5V426H829.5ZM829.5 381H834.5V382H829.5ZM829.5 337H834.5V338H829.5ZM829.5 294H834.5V295H829.5Z"/><path class="k" fill-opacity="0.5" d="M848.944 508H850.056V509H848.944ZM848.944 513H850.056V514H848.944ZM917.944 508H919.056V509H917.944ZM917.944 513H919.056V514H917.944ZM986.944 508H988.056V509H986.944ZM986.944 513H988.056V514H986.944ZM1055.944 508H1057.056V509H1055.944ZM1055.944 513H1057.056V514H1055.944ZM1124.944 508H1126.056V509H1124.944ZM1124.944 513H1126.056V514H1124.944Z"/><path class="k" fill-opacity="0.056" d="M829.5 467H834.5V468H829.5ZM829.5 469H834.5V470H829.5ZM829.5 424H834.5V425H829.5ZM829.5 426H834.5V427H829.5ZM829.5 380H834.5V381H829.5ZM829.5 382H834.5V383H829.5ZM829.5 336H834.5V337H829.5ZM829.5 338H834.5V339H829.5ZM829.5 293H834.5V294H829.5ZM829.5 295H834.5V296H829.5Z"/><g class="t"><text x="845.194" y="528.53" textLength="8.22" lengthAdjust="spacingAndGlyphs">0</text><text x="914.147" y="528.61" textLength="7.908" lengthAdjust="spacingAndGlyphs">5</text><text x="979.125" y="528.53" textLength="16.239" lengthAdjust="spacingAndGlyphs">10</text><text x="1048.448" y="528.53" textLength="15.598" lengthAdjust="spacingAndGlyphs">15</text><text x="1116.521" y="528.53" textLength="16.863" lengthAdjust="spacingAndGlyphs">20</text><text x="803.61" y="473.649" textLength="19.716" lengthAdjust="spacingAndGlyphs">0.2</text><text x="803.24" y="429.848" textLength="20.22" lengthAdjust="spacingAndGlyphs">0.4</text><text x="803.24" y="386.567" textLength="20.494" lengthAdjust="spacingAndGlyphs">0.6</text><text x="803.61" y="342.766" textLength="19.968" lengthAdjust="spacingAndGlyphs">0.8</text><text x="803.49" y="299.045" textLength="20.22" lengthAdjust="spacingAndGlyphs">1.0</text><text x="991.851" y="548.535" textLength="4.833" lengthAdjust="spacingAndGlyphs">t</text></g><path class="lf" d="M1094.5 314.5L1144.5 314.5Q1147.5 314.5 1147.5 311.5L1147.5 291.5Q1147.5 288.5 1144.5 288.5L1094.5 288.5Q1091.5 288.5 1091.5 291.5L1091.5 311.5Q1091.5 314.5 1094.5 314.5Z"/><path class="b" d="M1094.958 299H1125.042V301H1094.958Z"/><path class="b" fill-opacity="0.042" d="M1094.958 298H1125.042V299H1094.958ZM1094.958 301H1125.042V302H1094.958Z"/><g class="t"><text x="1134.916" y="304.917" textLength="5.528" lengthAdjust="spacingAndGlyphs">r</text></g></g>
<g><path class="b" d="M81.958 665H360.042V667H81.958Z"/><path class="b" fill-opacity="0.042" d="M81.958 664H360.042V665H81.958ZM81.958 667H360.042V668H81.958Z"/><path class="r" d="M83 665H90.708V667H83ZM94.042 665H101.75V667H94.042ZM105.083 665H112.792V667H105.083ZM116.125 665H123.833V667H116.125ZM127.167 665H134.875V667H127.167ZM138.208 665H145.917V667H138.208ZM149.25 665H156.958V667H149.25ZM160.292 665H168V667H160.292ZM171.333 665H179.042V667H171.333ZM182.375 665H190.083V667H182.375ZM193.417 665H201.125V667H193.417ZM204.458 665H212.167V667H204.458ZM215.5 665H223.208V667H215.5ZM226.542 665H234.25V667H226.542ZM237.583 665H245.292V667H237.583ZM248.625 665H256.333V667H248.625ZM259.667 665H267.375V667H259.667ZM270.708 665H278.417V667H270.708ZM281.75 665H289.458V667H281.75ZM292.792 665H300.5V667H292.792ZM303.833 665H311.542V667H303.833ZM314.875 665H322.583V667H314.875ZM325.917 665H333.625V667H325.917ZM336.958 665H344.667V667H336.958ZM348 665H355.708V667H348ZM359.042 665H366.75V667H359.042ZM370.083 665H373V667H370.083Z"/><path class="r" fill-opacity="0.042" d="M83 664H90.708V665H83ZM83 667H90.708V668H83ZM94.042 664H101.75V665H94.042ZM94.042 667H101.75V668H94.042ZM105.083 664H112.792V665H105.083ZM105.083 667H112.792V668H105.083ZM116.125 664H123.833V665H116.125ZM116.125 667H123.833V668H116.125ZM127.167 664H134.875V665H127.167ZM127.167 667H134.875V668H127.167ZM138.208 664H145.917V665H138.208ZM138.208 667H145.917V668H138.208ZM149.25 664H156.958V665H149.25ZM149.25 667H156.958V668H149.25ZM160.292 664H168V665H160.292ZM160.292 667H168V668H160.292ZM171.333 664H179.042V665H171.333ZM171.333 667H179.042V668H171.333ZM182.375 664H190.083V665H182.375ZM182.375 667H190.083V668H182.375ZM193.417 664H201.125V665H193.417ZM193.417 667H201.125V668H193.417ZM204.458 664H212.167V665H204.458ZM204.458 667H212.167V668H204.458ZM215.5 664H223.208V665H215.5ZM215.5 667H223.208V668H215.5ZM226.542 664H234.25V665H226.542ZM226.542 667H234.25V668H226.542ZM237.583 664H245.292V665H237.583ZM237.583 667H245.292V668H237.583ZM248.625 664H256.333V665H248.625ZM248.625 667H256.333V668H248.625ZM259.667 664H267.375V665H259.667ZM259.667 667H267.375V668H259.667ZM270.708 664H278.417V665H270.708ZM270.708 667H278.417V668H270.708ZM281.75 664H289.458V665H281.75ZM281.75 667H289.458V668H281.75ZM292.792 664H300.5V665H292.792ZM292.792 667H300.5V668H292.792ZM303.833 664H311.542V665H303.833ZM303.833 667H311.542V668H303.833ZM314.875 664H322.583V665H314.875ZM314.875 667H322.583V668H314.875ZM325.917 664H333.625V665H325.917ZM325.917 667H333.625V668H325.917ZM336.958 664H344.667V665H336.958ZM336.958 667H344.667V668H336.958ZM348 664H355.708V665H348ZM348 667H355.708V668H348ZM359.042 664H366.75V665H359.042ZM359.042 667H366.75V668H359.042ZM370.083 664H373V665H370.083ZM370.083 667H373V668H370.083Z"/><path class="k" d="M67.944 553H69.056V781H67.944Z"/><path class="k" fill-opacity="0.056" d="M67.944 552H69.056V553H67.944ZM67.944 781H69.056V782H67.944Z"/><path class="k" d="M387.944 553H389.056V781H387.944Z"/><path class="k" fill-opacity="0.056" d="M387.944 552H389.056V553H387.944ZM387.944 781H389.056V782H387.944Z"/><path class="k" d="M67.944 780H389.056V781H67.944Z"/><path class="k" fill-opacity="0.056" d="M67.944 779H389.056V780H67.944ZM67.944 781H389.056V782H67.944Z"/><path class="k" d="M67.944 553H389.056V554H67.944Z"/><path class="k" fill-opacity="0.056" d="M67.944 552H389.056V553H67.944ZM67.944 554H389.056V555H67.944Z"/><path class="k" d="M82.944 781H84.056V785H82.944ZM151.944 781H153.056V785H151.944ZM220.944 781H222.056V785H220.944ZM289.944 781H291.056V785H289.944ZM358.944 781H360.056V785H358.944ZM63.5 769H68.5V770H63.5ZM63.5 735H68.5V736H63.5ZM63.5 701H68.5V702H63.5ZM63.5 666H68.5V667H63.5ZM63.5 632H68.5V633H63.5ZM63.5 598H68.5V599H63.5ZM63.5 564H68.5V565H63.5Z"/><path class="k" fill-opacity="0.5" d="M82.944 780H84.056V781H82.944ZM82.944 785H84.056V786H82.944ZM151.944 780H153.056V781H151.944ZM151.944 785H153.056V786H151.944ZM220.944 780H222.056V781H220.944ZM220.944 785H222.056V786H220.944ZM289.944 780H291.056V781H289.944ZM289.944 785H291.056V786H289.944ZM358.944 780H360.056V781H358.944ZM358.944 785H360.056V786H358.944Z"/><path class="k" fill-opacity="0.056" d="M63.5 768H68.5V769H63.5ZM63.5 770H68.5V771H63.5ZM63.5 734H68.5V735H63.5ZM63.5 736H68.5V737H63.5ZM63.5 700H68.5V701H63.5ZM63.5 702H68.5V703H63.5ZM63.5 665H68.5V666H63.5ZM63.5 667H68.5V668H63.5ZM63.5 631H68.5V632H63.5ZM63.5 633H68.5V634H63.5ZM63.5 597H68.5V598H63.5ZM63.5 599H68.5V600H63.5ZM63.5 563H68.5V564H63.5ZM63.5 565H68.5V566H63.5Z"/><g class="t"><text x="79.312" y="800.594" textLength="8.22" lengthAdjust="spacingAndGlyphs">0</text><text x="148.385" y="800.744" textLength="7.588" lengthAdjust="spacingAndGlyphs">5</text><text x="213.242" y="800.674" textLength="16.222" lengthAdjust="spacingAndGlyphs">10</text><text x="282.566" y="800.594" textLength="15.598" lengthAdjust="spacingAndGlyphs">15</text><text x="350.259" y="800.524" textLength="17.285" lengthAdjust="spacingAndGlyphs">20</text><text x="11.269" y="774.928" textLength="46.312" lengthAdjust="spacingAndGlyphs">0.1425</text><text x="11.019" y="740.544" textLength="46.914" lengthAdjust="spacingAndGlyphs">0.1450</text><text x="11.269" y="706.601" textLength="46.312" lengthAdjust="spacingAndGlyphs">0.1475</text><text x="10.019" y="671.837" textLength="48.628" lengthAdjust="spacingAndGlyphs">0.1500</text><text x="11.149" y="637.603" textLength="46.868" lengthAdjust="spacingAndGlyphs">0.1525</text><text x="10.899" y="603.509" textLength="47.47" lengthAdjust="spacingAndGlyphs">0.1550</text><text x="11.019" y="568.826" textLength="46.914" lengthAdjust="spacingAndGlyphs">0.1575</text><text x="225.969" y="819.78" textLength="4.509" lengthAdjust="spacingAndGlyphs">t</text></g><path class="lf" d="M325.5 585.5L378.5 585.5Q381.5 585.5 381.5 583.5L381.5 563.5Q381.5 560.5 378.5 560.5L325.5 560.5Q322.5 560.5 322.5 563.5L322.5 583.5Q322.5 585.5 325.5 585.5Z"/><path class="b" d="M326.958 571H357.042V573H326.958Z"/><path class="b" fill-opacity="0.042" d="M326.958 570H357.042V571H326.958ZM326.958 573H357.042V574H326.958Z"/><g class="t"><text x="367.716" y="576.532" textLength="7.155" lengthAdjust="spacingAndGlyphs">τ</text></g></g>
<g><path class="dl" d="M465.919 563.546 L479.733 564.651 L493.548 566.719 L507.363 570.054 L521.177 574.718 L534.992 580.634 L548.806 587.691 L562.621 595.789 L576.436 604.841 L590.25 614.775 L604.065 625.529 L617.88 637.05 L631.694 649.294 L645.509 662.221 L659.323 675.799 L673.138 689.995 L686.953 704.785 L700.767 720.144 L714.582 736.05 L728.396 752.484 L742.211 769.428"/><path class="r" d="M466 563H473.708V565H466ZM477.042 563H484.75V565H477.042ZM488.083 563H495.792V565H488.083ZM499.125 563H506.833V565H499.125ZM510.167 563H517.875V565H510.167ZM521.208 563H528.917V565H521.208ZM532.25 563H539.958V565H532.25ZM543.292 563H551V565H543.292ZM554.333 563H562.042V565H554.333ZM565.375 563H573.083V565H565.375ZM576.417 563H584.125V565H576.417ZM587.458 563H595.167V565H587.458ZM598.5 563H606.208V565H598.5ZM609.542 563H617.25V565H609.542ZM620.583 563H628.292V565H620.583ZM631.625 563H639.333V565H631.625ZM642.667 563H650.375V565H642.667ZM653.708 563H661.417V565H653.708ZM664.75 563H672.458V565H664.75ZM675.792 563H683.5V565H675.792ZM686.833 563H694.542V565H686.833ZM697.875 563H705.583V565H697.875ZM708.917 563H716.625V565H708.917ZM719.958 563H727.667V565H719.958ZM731 563H738.708V565H731ZM742.042 563H749.75V565H742.042ZM753.083 563H756V565H753.083Z"/><path class="r" fill-opacity="0.042" d="M466 562H473.708V563H466ZM466 565H473.708V566H466ZM477.042 562H484.75V563H477.042ZM477.042 565H484.75V566H477.042ZM488.083 562H495.792V563H488.083ZM488.083 565H495.792V566H488.083ZM499.125 562H506.833V563H499.125ZM499.125 565H506.833V566H499.125ZM510.167 562H517.875V563H510.167ZM510.167 565H517.875V566H510.167ZM521.208 562H528.917V563H521.208ZM521.208 565H528.917V566H521.208ZM532.25 562H539.958V563H532.25ZM532.25 565H539.958V566H532.25ZM543.292 562H551V563H543.292ZM543.292 565H551V566H543.292ZM554.333 562H562.042V563H554.333ZM554.333 565H562.042V566H554.333ZM565.375 562H573.083V563H565.375ZM565.375 565H573.083V566H565.375ZM576.417 562H584.125V563H576.417ZM576.417 565H584.125V566H576.417ZM587.458 562H595.167V563H587.458ZM587.458 565H595.167V566H587.458ZM598.5 562H606.208V563H598.5ZM598.5 565H606.208V566H598.5ZM609.542 562H617.25V563H609.542ZM609.542 565H617.25V566H609.542ZM620.583 562H628.292V563H620.583ZM620.583 565H628.292V566H620.583ZM631.625 562H639.333V563H631.625ZM631.625 565H639.333V566H631.625ZM642.667 562H650.375V563H642.667ZM642.667 565H650.375V566H642.667ZM653.708 562H661.417V563H653.708ZM653.708 565H661.417V566H653.708ZM664.75 562H672.458V563H664.75ZM664.75 565H672.458V566H664.75ZM675.792 562H683.5V563H675.792ZM675.792 565H683.5V566H675.792ZM686.833 562H694.542V563H686.833ZM686.833 565H694.542V566H686.833ZM697.875 562H705.583V563H697.875ZM697.875 565H705.583V566H697.875ZM708.917 562H716.625V563H708.917ZM708.917 565H716.625V566H708.917ZM719.958 562H727.667V563H719.958ZM719.958 565H727.667V566H719.958ZM731 562H738.708V563H731ZM731 565H738.708V566H731ZM742.042 562H749.75V563H742.042ZM742.042 565H749.75V566H742.042ZM753.083 562H756V563H753.083ZM753.083 565H756V566H753.083Z"/><path class="k" d="M450.944 553H452.056V781H450.944Z"/><path class="k" fill-opacity="0.056" d="M450.944 552H452.056V553H450.944ZM450.944 781H452.056V782H450.944Z"/><path class="k" d="M770.944 553H772.056V781H770.944Z"/><path class="k" fill-opacity="0.056" d="M770.944 552H772.056V553H770.944ZM770.944 781H772.056V782H770.944Z"/><path class="k" d="M450.944 780H772.056V781H450.944Z"/><path class="k" fill-opacity="0.056" d="M450.944 779H772.056V780H450.944ZM450.944 781H772.056V782H450.944Z"/><path class="k" d="M450.944 553H772.056V554H450.944Z"/><path class="k" fill-opacity="0.056" d="M450.944 552H772.056V553H450.944ZM450.944 554H772.056V555H450.944Z"/><path class="k" d="M465.944 781H467.056V785H465.944ZM534.944 781H536.056V785H534.944ZM603.944 781H605.056V785H603.944ZM672.944 781H674.056V785H672.944ZM741.944 781H743.056V785H741.944ZM446.5 762H451.5V763H446.5ZM446.5 712H451.5V713H446.5ZM446.5 663H451.5V664H446.5ZM446.5 613H451.5V614H446.5ZM446.5 564H451.5V565H446.5Z"/><path class="k" fill-opacity="0.5" d="M465.944 780H467.056V781H465.944ZM465.944 785H467.056V786H465.944ZM534.944 780H536.056V781H534.944ZM534.944 785H536.056V786H534.944ZM603.944 780H605.056V781H603.944ZM603.944 785H605.056V786H603.944ZM672.944 780H674.056V781H672.944ZM672.944 785H674.056V786H672.944ZM741.944 780H743.056V781H741.944ZM741.944 785H743.056V786H741.944Z"/><path class="k" fill-opacity="0.056" d="M446.5 761H451.5V762H446.5ZM446.5 763H451.5V764H446.5ZM446.5 711H451.5V712H446.5ZM446.5 713H451.5V714H446.5ZM446.5 662H451.5V663H446.5ZM446.5 664H451.5V665H446.5ZM446.5 612H451.5V613H446.5ZM446.5 614H451.5V615H446.5ZM446.5 563H451.5V564H446.5ZM446.5 565H451.5V566H446.5Z"/><g class="t"><text x="462.253" y="800.594" textLength="8.22" lengthAdjust="spacingAndGlyphs">0</text><text x="531.206" y="800.674" textLength="7.908" lengthAdjust="spacingAndGlyphs">5</text><text x="596.184" y="800.674" textLength="16.222" lengthAdjust="spacingAndGlyphs">10</text><text x="665.507" y="800.594" textLength="15.598" lengthAdjust="spacingAndGlyphs">15</text><text x="733.08" y="800.594" textLength="17.285" lengthAdjust="spacingAndGlyphs">20</text><text x="423.124" y="766.969" textLength="18.268" lengthAdjust="spacingAndGlyphs">−8</text><text x="423.124" y="717.503" textLength="18.268" lengthAdjust="spacingAndGlyphs">−6</text><text x="421.754" y="668.117" textLength="19.475" lengthAdjust="spacingAndGlyphs">−4</text><text x="423.004" y="618.582" textLength="18.014" lengthAdjust="spacingAndGlyphs">−2</text><text x="434.338" y="568.896" textLength="8.22" lengthAdjust="spacingAndGlyphs">0</text><text x="608.91" y="819.78" textLength="4.509" lengthAdjust="spacingAndGlyphs">t</text></g><path class="lf" d="M706.5 585.5L761.5 585.5Q764.5 585.5 764.5 583.5L764.5 563.5Q764.5 560.5 761.5 560.5L706.5 560.5Q703.5 560.5 703.5 563.5L703.5 583.5Q703.5 585.5 706.5 585.5Z"/><path class="b" d="M707.958 571H737.042V573H707.958Z"/><path class="b" fill-opacity="0.042" d="M707.958 570H737.042V571H707.958ZM707.958 573H737.042V574H707.958Z"/><g class="t"><text x="748.222" y="576.682" textLength="10.215" lengthAdjust="spacingAndGlyphs">D</text></g></g>
<g><path class="b" d="M847.958 768H1126.042V770H847.958Z"/><path class="b" fill-opacity="0.042" d="M847.958 767H1126.042V768H847.958ZM847.958 770H1126.042V771H847.958Z"/><path class="r" d="M849 563H856.708V565H849ZM860.042 563H867.75V565H860.042ZM871.083 563H878.792V565H871.083ZM882.125 563H889.833V565H882.125ZM893.167 563H900.875V565H893.167ZM904.208 563H911.917V565H904.208ZM915.25 563H922.958V565H915.25ZM926.292 563H934V565H926.292ZM937.333 563H945.042V565H937.333ZM948.375 563H956.083V565H948.375ZM959.417 563H967.125V565H959.417ZM970.458 563H978.167V565H970.458ZM981.5 563H989.208V565H981.5ZM992.542 563H1000.25V565H992.542ZM1003.583 563H1011.292V565H1003.583ZM1014.625 563H1022.333V565H1014.625ZM1025.667 563H1033.375V565H1025.667ZM1036.708 563H1044.417V565H1036.708ZM1047.75 563H1055.458V565H1047.75ZM1058.792 563H1066.5V565H1058.792ZM1069.833 563H1077.542V565H1069.833ZM1080.875 563H1088.583V565H1080.875ZM1091.917 563H1099.625V565H1091.917ZM1102.958 563H1110.667V565H1102.958ZM1114 563H1121.708V565H1114ZM1125.042 563H1132.75V565H1125.042ZM1136.083 563H1139V565H1136.083Z"/><path class="r" fill-opacity="0.042" d="M849 562H856.708V563H849ZM849 565H856.708V566H849ZM860.042 562H867.75V563H860.042ZM860.042 565H867.75V566H860.042ZM871.083 562H878.792V563H871.083ZM871.083 565H878.792V566H871.083ZM882.125 562H889.833V563H882.125ZM882.125 565H889.833V566H882.125ZM893.167 562H900.875V563H893.167ZM893.167 565H900.875V566H893.167ZM904.208 562H911.917V563H904.208ZM904.208 565H911.917V566H904.208ZM915.25 562H922.958V563H915.25ZM915.25 565H922.958V566H915.25ZM926.292 562H934V563H926.292ZM926.292 565H934V566H926.292ZM937.333 562H945.042V563H937.333ZM937.333 565H945.042V566H937.333ZM948.375 562H956.083V563H948.375ZM948.375 565H956.083V566H948.375ZM959.417 562H967.125V563H959.417ZM959.417 565H967.125V566H959.417ZM970.458 562H978.167V563H970.458ZM970.458 565H978.167V566H970.458ZM981.5 562H989.208V563H981.5ZM981.5 565H989.208V566H981.5ZM992.542 562H1000.25V563H992.542ZM992.542 565H1000.25V566H992.542ZM1003.583 562H1011.292V563H1003.583ZM1003.583 565H1011.292V566H1003.583ZM1014.625 562H1022.333V563H1014.625ZM1014.625 565H1022.333V566H1014.625ZM1025.667 562H1033.375V563H1025.667ZM1025.667 565H1033.375V566H1025.667ZM1036.708 562H1044.417V563H1036.708ZM1036.708 565H1044.417V566H1036.708ZM1047.75 562H1055.458V563H1047.75ZM1047.75 565H1055.458V566H1047.75ZM1058.792 562H1066.5V563H1058.792ZM1058.792 565H1066.5V566H1058.792ZM1069.833 562H1077.542V563H1069.833ZM1069.833 565H1077.542V566H1069.833ZM1080.875 562H1088.583V563H1080.875ZM1080.875 565H1088.583V566H1080.875ZM1091.917 562H1099.625V563H1091.917ZM1091.917 565H1099.625V566H1091.917ZM1102.958 562H1110.667V563H1102.958ZM1102.958 565H1110.667V566H1102.958ZM1114 562H1121.708V563H1114ZM1114 565H1121.708V566H1114ZM1125.042 562H1132.75V563H1125.042ZM1125.042 565H1132.75V566H1125.042ZM1136.083 562H1139V563H1136.083ZM1136.083 565H1139V566H1136.083Z"/><path class="k" d="M833.944 553H835.056V781H833.944Z"/><path class="k" fill-opacity="0.056" d="M833.944 552H835.056V553H833.944ZM833.944 781H835.056V782H833.944Z"/><path class="k" d="M1152.944 553H1154.056V781H1152.944Z"/><path class="k" fill-opacity="0.056" d="M1152.944 552H1154.056V553H1152.944ZM1152.944 781H1154.056V782H1152.944Z"/><path class="k" d="M833.944 780H1154.056V781H833.944Z"/><path class="k" fill-opacity="0.056" d="M833.944 779H1154.056V780H833.944ZM833.944 781H1154.056V782H833.944Z"/><path class="k" d="M833.944 553H1154.056V554H833.944Z"/><path class="k" fill-opacity="0.056" d="M833.944 552H1154.056V553H833.944ZM833.944 554H1154.056V555H833.944Z"/><path class="k" d="M848.944 781H850.056V785H848.944ZM917.944 781H919.056V785H917.944ZM986.944 781H988.056V785H986.944ZM1055.944 781H1057.056V785H1055.944ZM1124.944 781H1126.056V785H1124.944ZM829.5 745H834.5V746H829.5ZM829.5 698H834.5V699H829.5ZM829.5 652H834.5V653H829.5ZM829.5 606H834.5V607H829.5ZM829.5 560H834.5V561H829.5Z"/><path class="k" fill-opacity="0.5" d="M848.944 780H850.056V781H848.944ZM848.944 785H850.056V786H848.944ZM917.944 780H919.056V781H917.944ZM917.944 785H919.056V786H917.944ZM986.944 780H988.056V781H986.944ZM986.944 785H988.056V786H986.944ZM1055.944 780H1057.056V781H1055.944ZM1055.944 785H1057.056V786H1055.944ZM1124.944 780H1126.056V781H1124.944ZM1124.944 785H1126.056V786H1124.944Z"/><path class="k" fill-opacity="0.056" d="M829.5 744H834.5V745H829.5ZM829.5 746H834.5V747H829.5ZM829.5 697H834.5V698H829.5ZM829.5 699H834.5V700H829.5ZM829.5 651H834.5V652H829.5ZM829.5 653H834.5V654H829.5ZM829.5 605H834.5V606H829.5ZM829.5 607H834.5V608H829.5ZM829.5 559H834.5V560H829.5ZM829.5 561H834.5V562H829.5Z"/><g class="t"><text x="845.194" y="800.594" textLength="8.22" lengthAdjust="spacingAndGlyphs">0</text><text x="914.147" y="800.674" textLength="7.908" lengthAdjust="spacingAndGlyphs">5</text><text x="979.125" y="800.524" textLength="16.239" lengthAdjust="spacingAndGlyphs">10</text><text x="1048.448" y="800.594" textLength="15.598" lengthAdjust="spacingAndGlyphs">15</text><text x="1116.521" y="800.594" textLength="16.863" lengthAdjust="spacingAndGlyphs">20</text><text x="794.957" y="750.042" textLength="29.45" lengthAdjust="spacingAndGlyphs">0.05</text><text x="794.957" y="703.888" textLength="29.45" lengthAdjust="spacingAndGlyphs">0.06</text><text x="794.957" y="657.735" textLength="29.45" lengthAdjust="spacingAndGlyphs">0.07</text><text x="795.207" y="611.581" textLength="29.45" lengthAdjust="spacingAndGlyphs">0.08</text><text x="794.957" y="565.727" textLength="29.45" lengthAdjust="spacingAndGlyphs">0.09</text><text x="991.851" y="819.85" textLength="4.833" lengthAdjust="spacingAndGlyphs">t</text></g><path class="lf" d="M1089.5 585.5L1144.5 585.5Q1147.5 585.5 1147.5 583.5L1147.5 563.5Q1147.5 560.5 1144.5 560.5L1089.5 560.5Q1086.5 560.5 1086.5 563.5L1086.5 583.5Q1086.5 585.5 1089.5 585.5Z"/><path class="b" d="M1089.958 571H1120.042V573H1089.958Z"/><path class="b" fill-opacity="0.042" d="M1089.958 570H1120.042V571H1089.958ZM1089.958 573H1120.042V574H1089.958Z"/><g class="t"><text x="1130.921" y="576.532" textLength="11.102" lengthAdjust="spacingAndGlyphs">G</text></g></g>
</svg>
</body></html>
